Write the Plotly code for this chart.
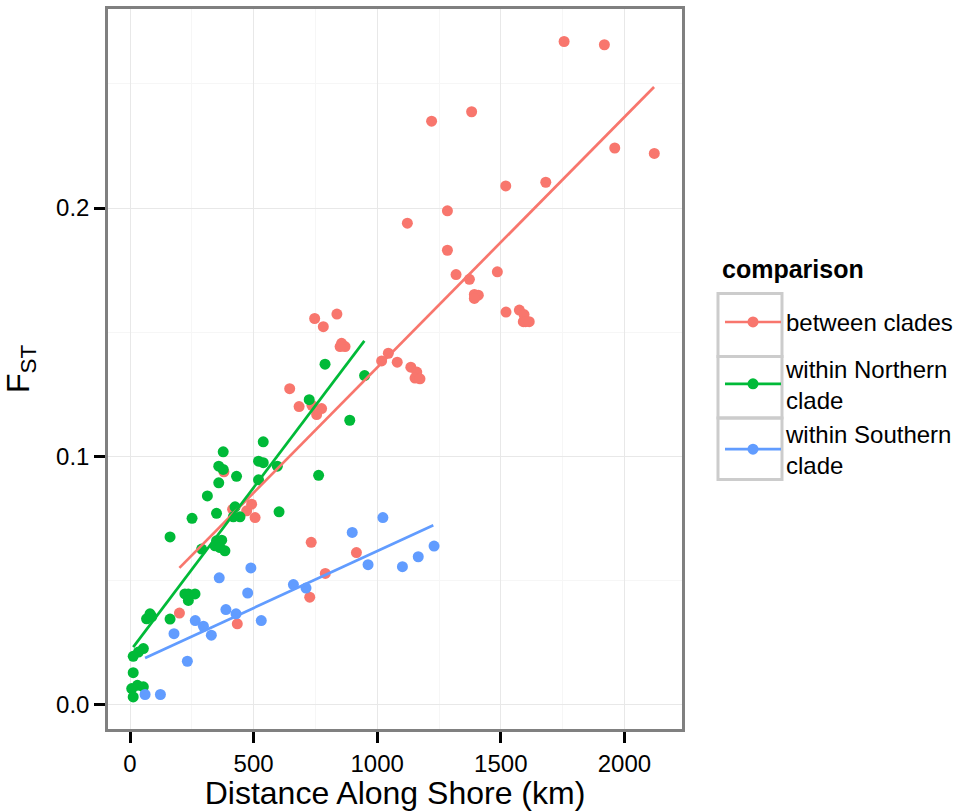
import plotly.graph_objects as go

# ---- data ----
between_x = [1756, 1919, 1220, 1382, 1961, 2121, 1520, 1682, 1284, 1122, 1284, 1319, 1373, 1486,
             1393, 1409, 1393, 1521, 1575, 1594, 1591, 1600, 1615, 1045, 1018, 1081, 1136, 1160,
             1153, 1173, 747, 782, 837, 856, 870, 850, 646, 684, 736, 755, 775, 380, 415, 472,
             492, 506, 200, 434, 733, 916, 790, 727]
between_y = [0.2671, 0.2658, 0.2350, 0.2388, 0.2242, 0.2220, 0.2089, 0.2104, 0.1989, 0.1939,
             0.1830, 0.1732, 0.1713, 0.1743, 0.1652, 0.1649, 0.1636, 0.1581, 0.1589, 0.1571,
             0.1542, 0.1542, 0.1542, 0.1415, 0.1384, 0.1379, 0.1359, 0.1339, 0.1315, 0.1312,
             0.1555, 0.1522, 0.1573, 0.1455, 0.1442, 0.1442, 0.1272, 0.1200, 0.1205, 0.1168,
             0.1192, 0.0937, 0.0786, 0.0780, 0.0807, 0.0753, 0.0368, 0.0325, 0.0653, 0.0612,
             0.0528, 0.0432]

north_x = [789, 949, 725, 889, 539, 377, 359, 377, 520, 539, 596, 359, 431, 520, 763, 313, 350,
           251, 425, 445, 418, 603, 162, 290, 350, 371, 344, 384, 364, 236, 222, 263, 236, 81,
           67, 88, 162, 54, 34, 13, 13, 30, 54, 7, 13]
north_y = [0.1371, 0.1325, 0.1228, 0.1145, 0.1058, 0.1018, 0.0960, 0.0947, 0.0980, 0.0974,
           0.0960, 0.0893, 0.0919, 0.0905, 0.0923, 0.0840, 0.0770, 0.0750, 0.0796, 0.0756,
           0.0756, 0.0776, 0.0675, 0.0626, 0.0659, 0.0662, 0.0639, 0.0619, 0.0632, 0.0445,
           0.0445, 0.0445, 0.0419, 0.0365, 0.0345, 0.0354, 0.0344, 0.0225, 0.0211, 0.0194,
           0.0128, 0.0077, 0.0071, 0.0064, 0.0030]

south_x = [1023, 899, 963, 1102, 1166, 1230, 489, 361, 476, 661, 712, 388, 429, 531, 264, 297,
           329, 178, 232, 61, 123]
south_y = [0.0753, 0.0693, 0.0563, 0.0555, 0.0595, 0.0638, 0.0550, 0.0510, 0.0449, 0.0483,
           0.0469, 0.0382, 0.0365, 0.0338, 0.0338, 0.0315, 0.0279, 0.0285, 0.0174, 0.0040,
           0.0040]

# fitted (lm) line end points
between_fit_x = [200, 2120]
between_fit_y = [0.0550, 0.2488]
north_fit_x = [13, 948]
north_fit_y = [0.0231, 0.1465]
south_fit_x = [61, 1227]
south_fit_y = [0.0187, 0.0722]

legend_title = "comparison"
group_names = ["between clades", "within Northern<br>clade", "within Southern<br>clade"]
x_ticks = [0, 500, 1000, 1500, 2000]
x_tick_text = ["0", "500", "1000", "1500", "2000"]
y_ticks = [0.0, 0.1, 0.2]
y_tick_text = ["0.0", "0.1", "0.2"]

colors = ["#F8766D", "#00BA38", "#619CFF"]
FONT = "Liberation Sans, Arial, sans-serif"

fig = go.Figure()

pts = [(between_x, between_y), (north_x, north_y), (south_x, south_y)]
fits = [(between_fit_x, between_fit_y), (north_fit_x, north_fit_y), (south_fit_x, south_fit_y)]

for (xs, ys), c in zip(pts, colors):
    fig.add_trace(go.Scatter(x=xs, y=ys, mode="markers", showlegend=False,
                             marker=dict(color=c, size=11, line=dict(width=0))))
for (xs, ys), c in zip(fits, colors):
    fig.add_trace(go.Scatter(x=xs, y=ys, mode="lines", showlegend=False,
                             line=dict(color=c, width=2.7)))

groups = ["g1", "g2", "g2"]
for name, c, g in zip(group_names, colors, groups):
    fig.add_trace(go.Scatter(x=[None], y=[None], mode="lines+markers", name=name,
                             legendgroup=g,
                             marker=dict(color=c, size=11, line=dict(width=0)),
                             line=dict(color=c, width=2.7)))

axis_common = dict(showline=True, mirror=True, linecolor="#808080", linewidth=2.5,
                   ticks="outside", ticklen=11, tickwidth=2.5, tickcolor="black",
                   zeroline=False, showgrid=True, gridcolor="#E8E8E8", gridwidth=1.3,
                   tickfont=dict(family=FONT, size=24, color="black"))

fig.update_xaxes(range=[-89, 2233], tickvals=x_ticks, ticktext=x_tick_text,
                 minor=dict(tickvals=[250, 750, 1250, 1750, 2250], showgrid=True,
                            gridcolor="#F6F6F6", gridwidth=1.3, ticks=""),
                 title=dict(text="Distance Along Shore (km)",
                            font=dict(family=FONT, size=32, color="black"), standoff=6),
                 **axis_common)
fig.update_yaxes(range=[-0.0099, 0.2802], tickvals=y_ticks, ticktext=y_tick_text,
                 minor=dict(tickvals=[0.05, 0.15, 0.25], showgrid=True,
                            gridcolor="#F6F6F6", gridwidth=1.3, ticks=""),
                 title=dict(text="F<sub>ST</sub>",
                            font=dict(family=FONT, size=32, color="black"), standoff=17),
                 **axis_common)

# legend key boxes (ggplot-style grey frames around the keys)
box_edges = [0.6048, 0.5173, 0.4320, 0.3467]
shapes = []
for top, bot in zip(box_edges[:-1], box_edges[1:]):
    shapes.append(dict(type="rect", xref="paper", yref="paper", x0=1.0627, x1=1.1742,
                       y0=bot, y1=top, line=dict(color="#CCCCCC", width=3),
                       fillcolor="rgba(0,0,0,0)", layer="below"))

fig.update_layout(
    width=975, height=811,
    margin=dict(l=108, r=293, t=6, b=82),
    plot_bgcolor="white", paper_bgcolor="white",
    font=dict(family=FONT, color="black"),
    shapes=shapes,
    annotations=[dict(text="<b>" + legend_title + "</b>", xref="paper", yref="paper",
                      x=1.0662, y=0.639, xanchor="left", yanchor="middle", showarrow=False,
                      font=dict(family=FONT, size=25, color="black"))],
    legend=dict(x=1.0662, y=0.596, xanchor="left", yanchor="top",
                font=dict(family=FONT, size=24, color="black"),
                traceorder="grouped", tracegroupgap=12, itemwidth=56,
                bgcolor="rgba(0,0,0,0)"),
)

fig.write_html("out.html")
